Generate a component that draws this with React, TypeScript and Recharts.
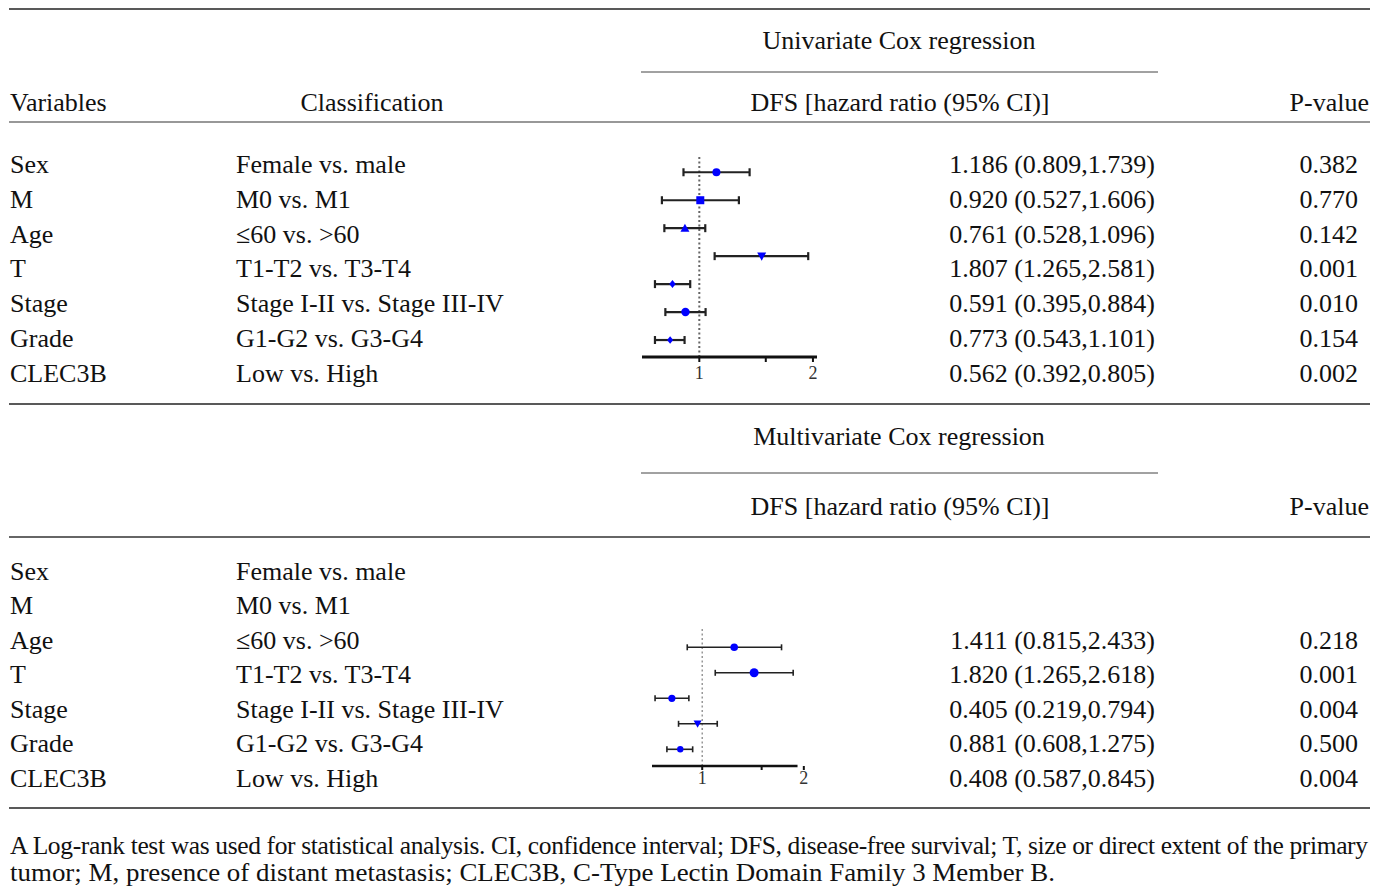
import React from "react";
import {
  ScatterChart,
  Scatter,
  XAxis,
  YAxis,
  ErrorBar,
  ReferenceLine,
} from "recharts";

/* ── Table text ── */

const VARIABLES = ["Sex", "M", "Age", "T", "Stage", "Grade", "CLEC3B"];
const CLASSIFICATIONS = [
  "Female vs. male",
  "M0 vs. M1",
  "≤60 vs. >60",
  "T1-T2 vs. T3-T4",
  "Stage I-II vs. Stage III-IV",
  "G1-G2 vs. G3-G4",
  "Low vs. High",
];
const UNI_HR_TEXT = [
  "1.186 (0.809,1.739)",
  "0.920 (0.527,1.606)",
  "0.761 (0.528,1.096)",
  "1.807 (1.265,2.581)",
  "0.591 (0.395,0.884)",
  "0.773 (0.543,1.101)",
  "0.562 (0.392,0.805)",
];
const UNI_P = ["0.382", "0.770", "0.142", "0.001", "0.010", "0.154", "0.002"];
const MULTI_HR_TEXT = [
  "",
  "",
  "1.411 (0.815,2.433)",
  "1.820 (1.265,2.618)",
  "0.405 (0.219,0.794)",
  "0.881 (0.608,1.275)",
  "0.408 (0.587,0.845)",
];
const MULTI_P = ["", "", "0.218", "0.001", "0.004", "0.500", "0.004"];

/* ── Forest plot marks (as drawn in the figure) ── */

const UNI_PT = [1.11, 1.006, 0.916, 1.463, 0.849, 0.919, 0.837];
const UNI_LO = [0.908, 0.796, 0.808, 1.098, 0.763, 0.813, 0.763];
const UNI_HI = [1.359, 1.273, 1.037, 1.943, 0.946, 1.039, 0.914];

const MULTI_PT = [1.244, 1.425, 0.813, 0.969, 0.861];
const MULTI_LO = [0.903, 1.093, 0.725, 0.851, 0.786];
const MULTI_HI = [1.718, 1.86, 0.913, 1.108, 0.937];

const AXIS_TICKS = [1, 1.5, 2];

const UNI_MARKERS = ["circle", "square", "triangle", "triangleDown", "diamond", "circle", "diamond"];
const UNI_SIZES = [4, 4, 4.5, 4.5, 4, 4.2, 3.8];
const MULTI_MARKERS = ["circle", "circle", "circle", "triangleDown", "circle"];
const MULTI_SIZES = [3.8, 4.5, 3.6, 4, 3.2];

const FOOTNOTE_1 =
  "A Log-rank test was used for statistical analysis. CI, confidence interval; DFS, disease-free survival; T, size or direct extent of the primary";
const FOOTNOTE_2 =
  "tumor; M, presence of distant metastasis; CLEC3B, C-Type Lectin Domain Family 3 Member B.";

const SERIF = "'Liberation Serif', 'Times New Roman', serif";
const INK = "#111";

function buildRows(pt: number[], lo: number[], hi: number[]) {
  return pt.map((v, i) => ({ hr: v, row: i, err: [v - lo[i], hi[i] - v] }));
}

function Marker(props: any) {
  const { cx, cy, kind, r } = props;
  if (cx == null || cy == null) return null;
  const fill = "#0000ff";
  if (kind === "square")
    return <rect x={cx - r} y={cy - r} width={2 * r} height={2 * r} fill={fill} />;
  if (kind === "triangle")
    return (
      <polygon
        points={`${cx},${cy - r} ${cx + r},${cy + r * 0.8} ${cx - r},${cy + r * 0.8}`}
        fill={fill}
      />
    );
  if (kind === "triangleDown")
    return (
      <polygon
        points={`${cx - r},${cy - r * 0.8} ${cx + r},${cy - r * 0.8} ${cx},${cy + r}`}
        fill={fill}
      />
    );
  if (kind === "diamond")
    return (
      <polygon
        points={`${cx},${cy - r} ${cx + r * 0.8},${cy} ${cx},${cy + r} ${cx - r * 0.8},${cy}`}
        fill={fill}
      />
    );
  return <circle cx={cx} cy={cy} r={r} fill={fill} />;
}

type ForestProps = {
  rows: { hr: number; row: number; err: number[] }[];
  markers: string[];
  sizes: number[];
  xDomain: [number, number];
  axisSpan: [number, number];
  yDomain: [number, number];
  left: number;
  top: number;
  width: number;
  height: number;
  rightPad: number;
  axisWidth: number;
  barWidth: number;
  cap: number;
  tickSize: number;
  tickMargin: number;
  dotColor: string;
  dotWidth: number;
};

function ForestPlot(p: ForestProps) {
  const yBottom = p.yDomain[1];
  return (
    <div style={{ position: "absolute", left: p.left, top: p.top }}>
      <ScatterChart
        width={p.width}
        height={p.height}
        margin={{ top: 0, right: p.rightPad, bottom: 0, left: 0 }}
      >
        <XAxis
          type="number"
          dataKey="hr"
          scale="log"
          domain={p.xDomain}
          allowDataOverflow
          ticks={AXIS_TICKS}
          interval={0}
          height={30}
          tickFormatter={(v: number) => (v === 1.5 ? "" : String(v))}
          tick={{ fontSize: 18, fill: "#333", fontFamily: SERIF }}
          tickSize={p.tickSize}
          tickMargin={p.tickMargin}
          tickLine={{ stroke: "#111", strokeWidth: 2 }}
          axisLine={false}
        />
        <YAxis
          type="number"
          dataKey="row"
          domain={p.yDomain}
          allowDataOverflow
          reversed
          hide
        />
        <ReferenceLine
          x={1}
          stroke={p.dotColor}
          strokeWidth={p.dotWidth}
          strokeDasharray="2 2.5"
        />
        <ReferenceLine
          segment={[
            { x: p.axisSpan[0], y: yBottom },
            { x: p.axisSpan[1], y: yBottom },
          ]}
          stroke="#111"
          strokeWidth={p.axisWidth}
          ifOverflow="visible"
        />
        <Scatter
          data={p.rows}
          isAnimationActive={false}
          shape={(s: any) => (
            <Marker
              cx={s.cx}
              cy={s.cy}
              kind={p.markers[s.payload.row]}
              r={p.sizes[s.payload.row]}
            />
          )}
        >
          <ErrorBar
            dataKey="err"
            direction="x"
            width={p.cap}
            stroke="#222"
            strokeWidth={p.barWidth}
            isAnimationActive={false}
          />
        </Scatter>
      </ScatterChart>
    </div>
  );
}

const UNI_BASE = 173;
const MULTI_BASE = 579.5;
const ROW_STEP = 34.75;
const X_VAR = 10;
const X_CLASS = 236;
const X_HR = 1155;
const X_P = 1358;
const LINE_L = 9;
const LINE_R = 1370;

function SectionText({
  title,
  titleY,
  underlineY,
  subY,
  withColumns,
}: {
  title: string;
  titleY: number;
  underlineY: number;
  subY: number;
  withColumns: boolean;
}) {
  return (
    <g>
      <text x={899} y={titleY} textAnchor="middle">
        {title}
      </text>
      <line x1={641} x2={1158} y1={underlineY} y2={underlineY} stroke="#444" strokeWidth={1} />
      {withColumns && (
        <>
          <text x={X_VAR} y={subY}>Variables</text>
          <text x={372} y={subY} textAnchor="middle">Classification</text>
        </>
      )}
      <text x={900} y={subY} textAnchor="middle">
        DFS [hazard ratio (95% CI)]
      </text>
      <text x={1369} y={subY} textAnchor="end">
        P-value
      </text>
    </g>
  );
}

export default function App() {
  const uniRows = buildRows(UNI_PT, UNI_LO, UNI_HI);
  const multiRows = buildRows(MULTI_PT, MULTI_LO, MULTI_HI);

  return (
    <div
      style={{
        position: "absolute",
        left: 0,
        top: 0,
        width: 1387,
        height: 890,
        background: "#fff",
        overflow: "hidden",
      }}
    >
      <svg
        width={1387}
        height={890}
        style={{ position: "absolute", left: 0, top: 0 }}
        fontFamily={SERIF}
        fontSize={26}
        fill={INK}
      >
        {/* rules */}
        <line x1={LINE_L} x2={LINE_R} y1={9} y2={9} stroke="#222" strokeWidth={1.6} />
        <line x1={LINE_L} x2={LINE_R} y1={122} y2={122} stroke="#333" strokeWidth={1.2} />
        <line x1={LINE_L} x2={LINE_R} y1={404} y2={404} stroke="#222" strokeWidth={1.6} />
        <line x1={LINE_L} x2={LINE_R} y1={537} y2={537} stroke="#333" strokeWidth={1.4} />
        <line x1={LINE_L} x2={LINE_R} y1={808} y2={808} stroke="#222" strokeWidth={1.6} />

        <SectionText
          title="Univariate Cox regression"
          titleY={49}
          underlineY={72}
          subY={111}
          withColumns
        />
        <SectionText
          title="Multivariate Cox regression"
          titleY={445}
          underlineY={473}
          subY={515}
          withColumns={false}
        />

        {VARIABLES.map((v, i) => (
          <g key={"u" + v}>
            <text x={X_VAR} y={UNI_BASE + i * ROW_STEP}>{v}</text>
            <text x={X_CLASS} y={UNI_BASE + i * ROW_STEP}>{CLASSIFICATIONS[i]}</text>
            <text x={X_HR} y={UNI_BASE + i * ROW_STEP} textAnchor="end">
              {UNI_HR_TEXT[i]}
            </text>
            <text x={X_P} y={UNI_BASE + i * ROW_STEP} textAnchor="end">
              {UNI_P[i]}
            </text>
          </g>
        ))}

        {VARIABLES.map((v, i) => (
          <g key={"m" + v}>
            <text x={X_VAR} y={MULTI_BASE + i * 34.5}>{v}</text>
            <text x={X_CLASS} y={MULTI_BASE + i * 34.5}>{CLASSIFICATIONS[i]}</text>
            <text x={X_HR} y={MULTI_BASE + i * 34.5} textAnchor="end">
              {MULTI_HR_TEXT[i]}
            </text>
            <text x={X_P} y={MULTI_BASE + i * 34.5} textAnchor="end">
              {MULTI_P[i]}
            </text>
          </g>
        ))}

        {/* footnote */}
        <text x={10} y={854} fontSize={25.5} textLength={1358} lengthAdjust="spacing">
          {FOOTNOTE_1}
        </text>
        <text x={10} y={881} fontSize={25.5} textLength={1045} lengthAdjust="spacingAndGlyphs">
          {FOOTNOTE_2}
        </text>
      </svg>

      <ForestPlot
        rows={uniRows}
        markers={UNI_MARKERS}
        sizes={UNI_SIZES}
        xDomain={[0.705, 2.05]}
        axisSpan={[0.705, 2.05]}
        yDomain={[-0.546, 6.607]}
        left={642}
        top={157}
        width={175}
        height={230}
        rightPad={0}
        axisWidth={3}
        barWidth={2.2}
        cap={4}
        tickSize={5}
        tickMargin={4}
        dotColor="#666"
        dotWidth={2}
      />
      <ForestPlot
        rows={multiRows}
        markers={MULTI_MARKERS}
        sizes={MULTI_SIZES}
        xDomain={[0.71, 2.03]}
        axisSpan={[0.71, 1.916]}
        yDomain={[-0.757, 4.655]}
        left={652}
        top={628}
        width={162}
        height={168}
        rightPad={8}
        axisWidth={2.6}
        barWidth={1.6}
        cap={3}
        tickSize={4}
        tickMargin={1}
        dotColor="#888"
        dotWidth={1.3}
      />
    </div>
  );
}
